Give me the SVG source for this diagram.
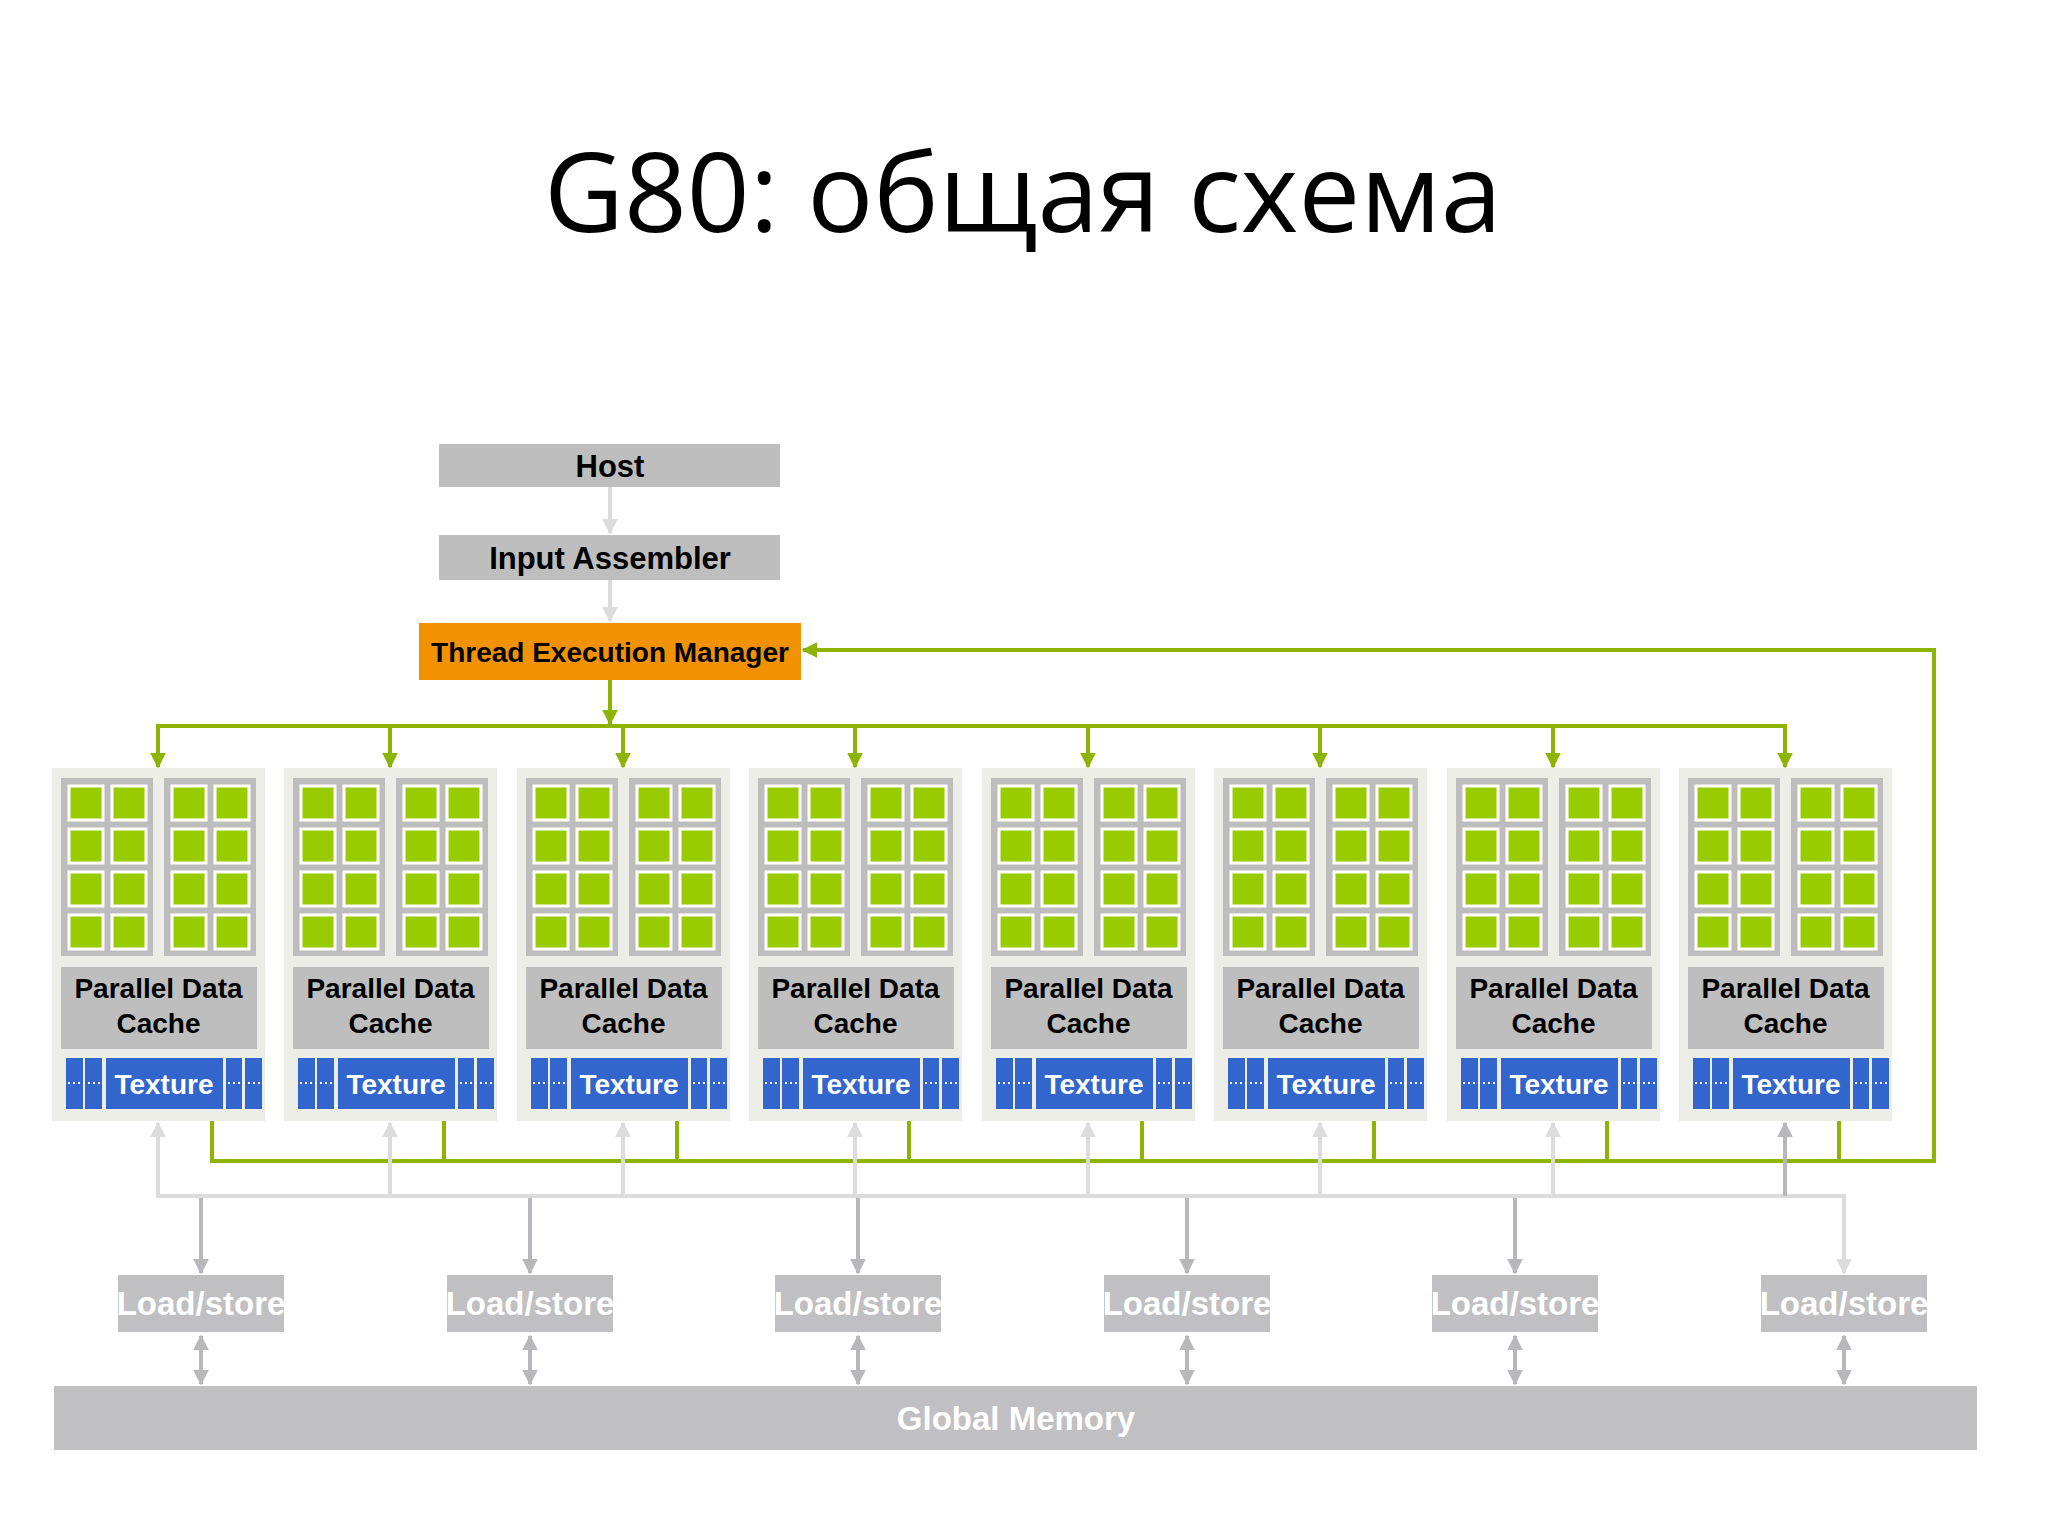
<svg xmlns="http://www.w3.org/2000/svg" xmlns:xlink="http://www.w3.org/1999/xlink" width="2048" height="1536" viewBox="0 0 2048 1536">
<style>
.b{font-family:"Liberation Sans",Arial,sans-serif;font-weight:bold}
.pdc{font-size:28px;fill:#000;text-anchor:middle}
.tex{font-size:28px;fill:#fff;text-anchor:middle}
.g{stroke:#8CB400;stroke-width:4;fill:none}
.lg{stroke:#DCDCDC;stroke-width:4;fill:none}
.dg{stroke:#B8B8BC;stroke-width:4;fill:none}
.ls{font-size:33px;fill:#fff;text-anchor:middle}
</style>
<defs>
<marker id="ag" viewBox="0 0 10 10" refX="9" refY="5" markerWidth="4" markerHeight="4" orient="auto"><path d="M0,0L10,5L0,10z" fill="#8CB400"/></marker>
<marker id="al" viewBox="0 0 10 10" refX="9" refY="5" markerWidth="4" markerHeight="4" orient="auto"><path d="M0,0L10,5L0,10z" fill="#DCDCDC"/></marker>
<marker id="ad" viewBox="0 0 10 10" refX="9" refY="5" markerWidth="4" markerHeight="4" orient="auto"><path d="M0,0L10,5L0,10z" fill="#B8B8BC"/></marker>
<marker id="ads" viewBox="0 0 10 10" refX="9" refY="5" markerWidth="4" markerHeight="4" orient="auto-start-reverse"><path d="M0,0L10,5L0,10z" fill="#B8B8BC"/></marker>
<g id="panel">
<rect x="0" y="0" width="92" height="178" fill="#BDBDBD"/>
<g fill="#99CC00" stroke="#fff" stroke-width="3">
<rect x="8" y="8" width="34" height="34"/><rect x="51" y="8" width="34" height="34"/>
<rect x="8" y="51" width="34" height="34"/><rect x="51" y="51" width="34" height="34"/>
<rect x="8" y="94" width="34" height="34"/><rect x="51" y="94" width="34" height="34"/>
<rect x="8" y="137" width="34" height="34"/><rect x="51" y="137" width="34" height="34"/>
</g>
</g>
<g id="sm">
<rect x="0" y="0" width="213" height="353" fill="#EDEDE8"/>
<use href="#panel" x="9" y="10"/>
<use href="#panel" x="112" y="10"/>
<rect x="9" y="199" width="196" height="82" fill="#BEBEBE"/>
<g fill="#3366CC">
<rect x="14" y="290" width="17" height="51"/><rect x="33" y="290" width="17" height="51"/>
<rect x="54" y="290" width="117" height="51"/>
<rect x="174" y="290" width="16" height="51"/><rect x="193" y="290" width="17" height="51"/>
</g>
<g stroke="#fff" stroke-width="2" stroke-dasharray="2 3">
<line x1="16" y1="315" x2="48" y2="315"/><line x1="176" y1="315" x2="208" y2="315"/>
</g>
</g>
<clipPath id="lc"><rect x="0" y="0" width="166" height="57"/></clipPath>
</defs>
<rect width="2048" height="1536" fill="#fff"/>
<text x="1023" y="232" font-family="'Open Sans','Noto Sans',sans-serif" font-size="110" text-anchor="middle" fill="#000">G80: общая схема</text>

<g id="connectors">
<line class="lg" x1="610" y1="487" x2="610" y2="533" marker-end="url(#al)"/>
<line class="lg" x1="610" y1="580" x2="610" y2="621" marker-end="url(#al)"/>
<line class="g" x1="610" y1="680" x2="610" y2="724" marker-end="url(#ag)"/>
<line class="g" x1="158" y1="726" x2="1785" y2="726"/>
<g class="g">
<line x1="158" y1="724" x2="158" y2="767" marker-end="url(#ag)"/>
<line x1="390" y1="726" x2="390" y2="767" marker-end="url(#ag)"/>
<line x1="623" y1="726" x2="623" y2="767" marker-end="url(#ag)"/>
<line x1="855" y1="726" x2="855" y2="767" marker-end="url(#ag)"/>
<line x1="1088" y1="726" x2="1088" y2="767" marker-end="url(#ag)"/>
<line x1="1320" y1="726" x2="1320" y2="767" marker-end="url(#ag)"/>
<line x1="1553" y1="726" x2="1553" y2="767" marker-end="url(#ag)"/>
<line x1="1785" y1="724" x2="1785" y2="767" marker-end="url(#ag)"/>
</g>
<path class="g" d="M212,1121V1161H1934V650H803" marker-end="url(#ag)"/>
<g class="g">
<line x1="444" y1="1121" x2="444" y2="1161"/><line x1="677" y1="1121" x2="677" y2="1161"/>
<line x1="909" y1="1121" x2="909" y2="1161"/><line x1="1142" y1="1121" x2="1142" y2="1161"/>
<line x1="1374" y1="1121" x2="1374" y2="1161"/><line x1="1607" y1="1121" x2="1607" y2="1161"/>
<line x1="1839" y1="1121" x2="1839" y2="1161"/>
</g>
<line class="lg" x1="158" y1="1196" x2="1846" y2="1196"/>
<g class="lg">
<line x1="158" y1="1198" x2="158" y2="1123" marker-end="url(#al)"/>
<line x1="390" y1="1196" x2="390" y2="1123" marker-end="url(#al)"/>
<line x1="623" y1="1196" x2="623" y2="1123" marker-end="url(#al)"/>
<line x1="855" y1="1196" x2="855" y2="1123" marker-end="url(#al)"/>
<line x1="1088" y1="1196" x2="1088" y2="1123" marker-end="url(#al)"/>
<line x1="1320" y1="1196" x2="1320" y2="1123" marker-end="url(#al)"/>
<line x1="1553" y1="1196" x2="1553" y2="1123" marker-end="url(#al)"/>
<line x1="1785" y1="1196" x2="1785" y2="1123" stroke="#B8B8BC" marker-end="url(#ad)"/>
</g>
<g class="dg">
<line x1="201" y1="1198" x2="201" y2="1273" marker-end="url(#ad)"/>
<line x1="530" y1="1198" x2="530" y2="1273" marker-end="url(#ad)"/>
<line x1="858" y1="1198" x2="858" y2="1273" marker-end="url(#ad)"/>
<line x1="1187" y1="1198" x2="1187" y2="1273" marker-end="url(#ad)"/>
<line x1="1515" y1="1198" x2="1515" y2="1273" marker-end="url(#ad)"/>
<line x1="1844" y1="1194" x2="1844" y2="1273" stroke="#DCDCDC" marker-end="url(#al)"/>
<line x1="201" y1="1336" x2="201" y2="1384" marker-start="url(#ads)" marker-end="url(#ad)"/>
<line x1="530" y1="1336" x2="530" y2="1384" marker-start="url(#ads)" marker-end="url(#ad)"/>
<line x1="858" y1="1336" x2="858" y2="1384" marker-start="url(#ads)" marker-end="url(#ad)"/>
<line x1="1187" y1="1336" x2="1187" y2="1384" marker-start="url(#ads)" marker-end="url(#ad)"/>
<line x1="1515" y1="1336" x2="1515" y2="1384" marker-start="url(#ads)" marker-end="url(#ad)"/>
<line x1="1844" y1="1336" x2="1844" y2="1384" marker-start="url(#ads)" marker-end="url(#ad)"/>
</g>
</g>

<g id="host"><rect x="439" y="444" width="341" height="43" fill="#BEBEBE"/><text class="b" x="610" y="477" font-size="31" text-anchor="middle">Host</text></g>
<g id="ia"><rect x="439" y="535" width="341" height="45" fill="#BEBEBE"/><text class="b" x="610" y="569" font-size="31" text-anchor="middle">Input Assembler</text></g>
<g id="tem"><rect x="419" y="623" width="382" height="57" fill="#F39200"/><text class="b" x="610" y="662" font-size="28" text-anchor="middle">Thread Execution Manager</text></g>

<g id="sm1" transform="translate(52,768)"><use href="#sm"/><text class="b pdc" x="106.5" y="230">Parallel Data</text><text class="b pdc" x="106.5" y="265">Cache</text><text class="b tex" x="112" y="326">Texture</text></g>
<g id="sm2" transform="translate(284,768)"><use href="#sm"/><text class="b pdc" x="106.5" y="230">Parallel Data</text><text class="b pdc" x="106.5" y="265">Cache</text><text class="b tex" x="112" y="326">Texture</text></g>
<g id="sm3" transform="translate(517,768)"><use href="#sm"/><text class="b pdc" x="106.5" y="230">Parallel Data</text><text class="b pdc" x="106.5" y="265">Cache</text><text class="b tex" x="112" y="326">Texture</text></g>
<g id="sm4" transform="translate(749,768)"><use href="#sm"/><text class="b pdc" x="106.5" y="230">Parallel Data</text><text class="b pdc" x="106.5" y="265">Cache</text><text class="b tex" x="112" y="326">Texture</text></g>
<g id="sm5" transform="translate(982,768)"><use href="#sm"/><text class="b pdc" x="106.5" y="230">Parallel Data</text><text class="b pdc" x="106.5" y="265">Cache</text><text class="b tex" x="112" y="326">Texture</text></g>
<g id="sm6" transform="translate(1214,768)"><use href="#sm"/><text class="b pdc" x="106.5" y="230">Parallel Data</text><text class="b pdc" x="106.5" y="265">Cache</text><text class="b tex" x="112" y="326">Texture</text></g>
<g id="sm7" transform="translate(1447,768)"><use href="#sm"/><text class="b pdc" x="106.5" y="230">Parallel Data</text><text class="b pdc" x="106.5" y="265">Cache</text><text class="b tex" x="112" y="326">Texture</text></g>
<g id="sm8" transform="translate(1679,768)"><use href="#sm"/><text class="b pdc" x="106.5" y="230">Parallel Data</text><text class="b pdc" x="106.5" y="265">Cache</text><text class="b tex" x="112" y="326">Texture</text></g>

<g id="ls1" transform="translate(118,1275)"><rect width="166" height="57" fill="#C0BFC2"/><text class="b ls" x="83" y="40" clip-path="url(#lc)">Load/store</text></g>
<g id="ls2" transform="translate(447,1275)"><rect width="166" height="57" fill="#C0BFC2"/><text class="b ls" x="83" y="40" clip-path="url(#lc)">Load/store</text></g>
<g id="ls3" transform="translate(775,1275)"><rect width="166" height="57" fill="#C0BFC2"/><text class="b ls" x="83" y="40" clip-path="url(#lc)">Load/store</text></g>
<g id="ls4" transform="translate(1104,1275)"><rect width="166" height="57" fill="#C0BFC2"/><text class="b ls" x="83" y="40" clip-path="url(#lc)">Load/store</text></g>
<g id="ls5" transform="translate(1432,1275)"><rect width="166" height="57" fill="#C0BFC2"/><text class="b ls" x="83" y="40" clip-path="url(#lc)">Load/store</text></g>
<g id="ls6" transform="translate(1761,1275)"><rect width="166" height="57" fill="#C0BFC2"/><text class="b ls" x="83" y="40" clip-path="url(#lc)">Load/store</text></g>

<g id="gm"><rect x="54" y="1386" width="1923" height="64" fill="#C0BFC2"/><text class="b" x="1016" y="1430" font-size="33" fill="#fff" text-anchor="middle">Global Memory</text></g>
</svg>
